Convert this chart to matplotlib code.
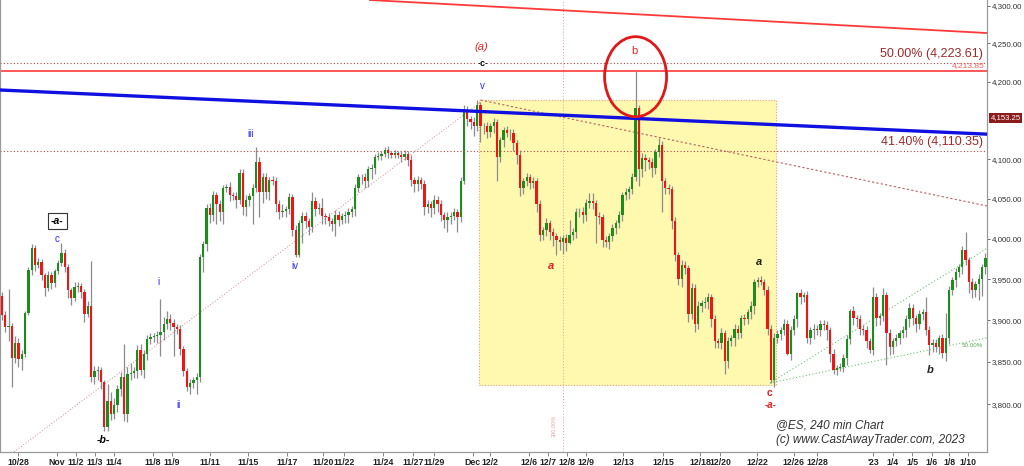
import matplotlib.pyplot as plt
from matplotlib.patches import Rectangle, Ellipse
from matplotlib.ticker import FixedLocator, NullLocator, NullFormatter, FuncFormatter

plt.rcParams["font.family"] = ["Liberation Sans", "DejaVu Sans"]

# ---- @ES 240 min bars (closes; open = previous close) ----
first_open = 3930
closes = [
    3906, 3892, 3893, 3855, 3873, 3854, 3860, 3909, 3961, 3989,
    3968, 3971, 3955, 3940, 3955, 3946, 3960, 3970, 3982, 3965,
    3937, 3927, 3941, 3942, 3935, 3908, 3917, 3832, 3839, 3840,
    3826, 3773, 3804, 3789, 3799, 3818, 3832, 3789, 3836, 3837,
    3839, 3864, 3841, 3860, 3877, 3880, 3881, 3882, 3886, 3896,
    3902, 3897, 3892, 3890, 3866, 3839, 3820, 3825, 3828, 3832,
    3978, 3993, 4039, 4030, 4055, 4043, 4034, 4064, 4065, 4055,
    4054, 4049, 4083, 4040, 4049, 4053, 4064, 4097, 4059, 4077,
    4058, 4074, 4073, 4043, 4033, 4035, 4037, 4052, 4011, 3980,
    4020, 4028, 4022, 4015, 4047, 4037, 4039, 4028, 4027, 4022,
    4018, 4030, 4024, 4028, 4030, 4033, 4037, 4064, 4077, 4078,
    4073, 4087, 4089, 4103, 4104, 4107, 4112, 4108, 4106, 4108,
    4106, 4103, 4107, 4099, 4074, 4068, 4074, 4068, 4040, 4043,
    4039, 4049, 4043, 4030, 4024, 4027, 4029, 4033, 4027, 4072,
    4163, 4151, 4148, 4142, 4169, 4142, 4142, 4135, 4142, 4148,
    4103, 4124, 4137, 4134, 4133, 4121, 4106, 4064, 4072, 4077,
    4070, 4072, 4043, 4005, 4011, 4020, 4009, 4003, 3999, 3996,
    4001, 3995, 4005, 4009, 4033, 4034, 4030, 4045, 4047, 4045,
    4028, 4027, 3999, 3996, 4003, 4014, 4020, 4030, 4055, 4058,
    4062, 4077, 4166, 4087, 4102, 4099, 4097, 4089, 4109, 4118,
    4072, 4064, 4062, 4022, 3980, 3951, 3968, 3964, 3908, 3940,
    3896, 3918, 3921, 3922, 3928, 3902, 3875, 3873, 3885, 3851,
    3875, 3879, 3890, 3885, 3903, 3902, 3910, 3918, 3947, 3949,
    3947, 3937, 3890, 3828, 3879, 3884, 3888, 3896, 3860, 3888,
    3902, 3933, 3928, 3931, 3879, 3888, 3890, 3889, 3896, 3894,
    3888, 3860, 3841, 3843, 3844, 3855, 3878, 3912, 3903, 3902,
    3890, 3888, 3875, 3864, 3928, 3903, 3905, 3931, 3885, 3868,
    3875, 3879, 3885, 3888, 3902, 3915, 3903, 3896, 3908, 3910,
    3888, 3870, 3873, 3868, 3879, 3861, 3879, 3937, 3949, 3959,
    3965, 3986, 3974, 3947, 3937, 3944, 3951, 3965, 3976,
]
upper_wick = [
    4, 5, 45, 4, 8, 6, 4, 3, 4, 5,
    3, 5, 4, 3, 5, 4, 3, 4, 13, 5,
    4, 3, 6, 5, 4, 3, 6, 55, 6, 5,
    4, 3, 20, 10, 8, 5, 6, 40, 8, 12,
    5, 6, 8, 4, 6, 5, 4, 5, 40, 8,
    10, 6, 5, 4, 5, 3, 4, 5, 4, 5,
    3, 4, 5, 6, 5, 4, 5, 3, 4, 6,
    4, 5, 4, 5, 6, 4, 5, 19, 6, 5,
    6, 3, 5, 4, 6, 8, 4, 5, 4, 6,
    4, 5, 6, 4, 12, 5, 6, 12, 4, 5,
    4, 6, 5, 4, 5, 6, 4, 5, 4, 3,
    5, 4, 5, 4, 5, 3, 4, 5, 3, 4,
    3, 4, 5, 4, 6, 4, 5, 4, 6, 5,
    4, 6, 4, 5, 4, 6, 4, 5, 4, 5,
    6, 5, 4, 6, 7, 5, 4, 5, 4, 5,
    4, 5, 4, 5, 4, 5, 4, 6, 4, 5,
    4, 5, 4, 5, 4, 6, 4, 5, 4, 5,
    4, 5, 19, 4, 5, 4, 6, 5, 10, 10,
    4, 5, 4, 5, 4, 5, 4, 5, 4, 5,
    4, 5, 48, 4, 6, 5, 4, 5, 4, 9,
    5, 4, 5, 4, 5, 4, 6, 5, 4, 5,
    4, 5, 4, 6, 5, 4, 5, 4, 6, 4,
    5, 4, 6, 5, 4, 5, 4, 5, 4, 4,
    5, 4, 5, 4, 6, 5, 4, 6, 4, 5,
    4, 2, 5, 4, 5, 4, 6, 4, 5, 4,
    5, 4, 6, 4, 5, 4, 5, 2, 5, 4,
    5, 4, 5, 4, 13, 5, 4, 9, 4, 5,
    4, 5, 4, 5, 4, 6, 5, 4, 5, 4,
    18, 5, 4, 5, 4, 5, 30, 5, 4, 5,
    4, 5, 23, 4, 5, 4, 5, 4, 6,
]
lower_wick = [
    6, 6, 17, 35, 6, 10, 13, 4, 3, 6,
    8, 4, 6, 10, 4, 8, 5, 4, 4, 6,
    10, 8, 4, 6, 8, 10, 4, 6, 8, 10,
    8, 4, 4, 8, 6, 8, 8, 9, 10, 8,
    6, 8, 6, 10, 8, 5, 6, 8, 25, 10,
    6, 8, 35, 6, 8, 6, 4, 8, 6, 16,
    6, 19, 8, 10, 8, 25, 12, 16, 6, 8,
    6, 10, 6, 10, 12, 8, 35, 6, 32, 14,
    8, 10, 6, 10, 8, 6, 8, 6, 8, 2,
    2, 25, 8, 10, 6, 8, 6, 10, 8, 6,
    8, 15, 8, 6, 8, 10, 6, 8, 6, 8,
    10, 8, 12, 8, 4, 5, 4, 6, 5, 4,
    5, 6, 4, 8, 8, 10, 8, 6, 10, 8,
    12, 8, 10, 8, 10, 16, 8, 6, 18, 6,
    4, 8, 10, 12, 6, 20, 10, 8, 6, 8,
    31, 6, 8, 6, 8, 10, 12, 10, 8, 6,
    8, 6, 10, 8, 6, 8, 10, 12, 19, 10,
    15, 10, 2, 6, 8, 6, 10, 8, 6, 8,
    33, 8, 9, 6, 8, 6, 8, 6, 8, 6,
    8, 6, 4, 21, 10, 14, 10, 12, 8, 6,
    39, 8, 6, 10, 8, 8, 10, 8, 10, 6,
    10, 6, 8, 6, 8, 10, 8, 6, 8, 15,
    8, 6, 10, 8, 6, 8, 6, 8, 10, 6,
    4, 6, 8, 3, 8, 6, 8, 6, 2, 8,
    6, 10, 8, 6, 6, 8, 10, 6, 8, 6,
    12, 10, 5, 6, 4, 6, 8, 6, 8, 10,
    8, 6, 8, 3, 6, 10, 8, 6, 39, 10,
    8, 6, 8, 6, 8, 10, 8, 10, 6, 8,
    6, 12, 8, 6, 8, 6, 10, 8, 6, 8,
    6, 8, 6, 14, 10, 8, 19, 21, 8,
]

# date labels and the bar each one sits under
tick_labels = ["10/28", "Nov", "11/2", "11/3", "11/4", "11/8", "11/9", "11/11",
               "11/15", "11/17", "11/20", "11/22", "11/24", "11/27", "11/29",
               "Dec", "12/2", "12/6", "12/7", "12/8", "12/9", "12/13", "12/15",
               "12/18", "12/20", "12/22", "12/26", "12/28", "'23", "1/4", "1/5",
               "1/6", "1/8", "1/10"]
tick_bars = [4.9, 16.7, 22.4, 28.2, 33.9, 45.8, 51.5, 63.0, 74.5, 86.4, 97.3,
             103.6, 115.5, 124.5, 130.9, 142.7, 147.9, 159.7, 165.5, 171.2,
             177.0, 188.2, 200.3, 211.5, 217.6, 228.8, 240.0, 247.0, 264.0,
             270.0, 275.8, 281.8, 287.0, 292.7]
# 4,150 is hidden behind the last-price box on the original
price_ticks = [3800, 3850, 3900, 3950, 4000, 4050, 4100, 4200, 4250, 4300]

# drawing tools on the chart
fib_levels = [4223.61, 4110.35]
fib_names = ["50.00%", "41.40%"]
spike_level = 4213.85
last_price = 4153.25
blue_bars, blue_prices = [-0.6, 298.5], [4189, 4132]
red_bars, red_prices = [111.5, 298.5], [4307.6, 4263.7]
rise_bars, rise_prices = [-0.6, 145.0], [3732, 4173]
fall_bars, fall_prices = [145.0, 298.5], [4176, 4041]
chan_bars = [232.7, 298.5]
chan_upper = [3825, 3988]
chan_lower = [3825, 3879]
box_bars = [144.5, 234.5]
box_prices = [3823, 4176]
marker_bar = 170
spike_bar = 192

opens = [first_open] + closes[:-1]
highs = [max(o, c) + u for o, c, u in zip(opens, closes, upper_wick)]
lows = [min(o, c) - d for o, c, d in zip(opens, closes, lower_wick)]
n = len(closes)

fig = plt.figure(figsize=(10.24, 4.66), dpi=100)
ax = fig.add_axes([0.0, 0.030, 0.9639, 0.970])
ax.set_yscale("log")
ax.set_xlim(-0.6, 298.5)
ax.set_ylim(3744, 4307.6)

# yellow box from the v high to the c low
ax.add_patch(Rectangle((box_bars[0], box_prices[0]), box_bars[1] - box_bars[0],
                       box_prices[1] - box_prices[0], facecolor="#fff9b0",
                       edgecolor="#eaa070", linestyle=(0, (1, 1.5)), lw=0.8, zorder=0))

dot = (0, (1, 2))
ax.axvline(marker_bar, color="#e79a9a", lw=0.7, ls=dot, zorder=1)
for lvl in fib_levels:
    ax.axhline(lvl, color="#b04545", lw=0.8, ls=dot, zorder=1)
ax.axhline(spike_level, color="#ff4a4a", lw=1.3, zorder=1)
ax.plot(red_bars, red_prices, color="#ff3a3a", lw=1.3, zorder=1)
ax.plot(rise_bars, rise_prices, color="#d98585", lw=0.7, ls=dot, zorder=1)
ax.plot(fall_bars, fall_prices, color="#b86060", lw=0.8, ls=(0, (2, 2)), zorder=1)
ax.plot(chan_bars, chan_upper, color="#6cc46c", lw=0.8, ls=dot, zorder=1)
ax.plot(chan_bars, chan_lower, color="#6cc46c", lw=0.8, ls=dot, zorder=1)

# candles
xs = list(range(n))
ax.vlines(xs, lows, highs, color="#8c8c8c", lw=0.9, zorder=2)
body_col = ["#1c8c1c" if c >= o else "#f01414" for o, c in zip(opens, closes)]
bottoms = [min(o, c) for o, c in zip(opens, closes)]
heights = [max(abs(c - o), 1.0) for o, c in zip(opens, closes)]
ax.bar(xs, heights, bottom=bottoms, width=0.68, color=body_col, lw=0, zorder=3)

ax.plot(blue_bars, blue_prices, color="#1010e0", lw=2.4, zorder=4)

# circle round the spike
cx, cy = ax.transAxes.inverted().transform(
    ax.transData.transform((spike_bar, highs[spike_bar])))
ax.add_patch(Ellipse((cx, cy - 0.013), 62 / 987, 80 / 452, transform=ax.transAxes,
                     fill=False, edgecolor="#e01818", lw=2.0, zorder=6))

# fib / price labels
for lvl, name in zip(fib_levels, fib_names):
    ax.annotate(f"{name} ({lvl:,.2f})", xy=(0.996, lvl),
                xycoords=("axes fraction", "data"), xytext=(0, 2.5),
                textcoords="offset points", ha="right", va="bottom",
                fontsize=9, color="#9c2a2a")
ax.annotate(f"{spike_level:,.2f}", xy=(0.998, spike_level),
            xycoords=("axes fraction", "data"), xytext=(0, 1),
            textcoords="offset points", ha="right", va="bottom",
            fontsize=6, color="#ff5a5a")
ax.annotate(f"{last_price:,.2f}", xy=(1.0, last_price),
            xycoords=("axes fraction", "data"), xytext=(2.5, 0),
            textcoords="offset points", ha="left", va="center", fontsize=5.6,
            color="white", annotation_clip=False, zorder=10,
            bbox=dict(boxstyle="square,pad=0.2", fc="#8b1c1c", ec="none"))

# wave labels
blue = "#2a2aff"
red = "#e82020"
ax.text(16.7, 4022, "-a-", fontsize=7.5, fontweight="bold", style="italic",
        ha="center", va="center", zorder=7,
        bbox=dict(boxstyle="square,pad=0.3", fc="white", ec="#333333", lw=0.8))
ax.text(16.7, 4000, "c", fontsize=7, color=blue, ha="center", va="center")
ax.text(30.6, 3758, "-b-", fontsize=7.5, fontweight="bold", style="italic",
        ha="center", va="center")
for lbl, bx, py in [("i", 47.3, 3947), ("ii", 53.6, 3799), ("iii", 75.2, 4132),
                    ("iv", 88.8, 3966), ("v", 145.5, 4194)]:
    ax.text(bx, py, lbl, fontsize=7, color=blue, ha="center", va="center")
ax.text(145.2, 4245, "(a)", fontsize=8, color=red, style="italic",
        ha="center", va="center")
ax.text(145.8, 4223.6, "-c-", fontsize=6.5, fontweight="bold", ha="center",
        va="center", zorder=7,
        bbox=dict(boxstyle="square,pad=0.05", fc="white", ec="none"))
ax.text(191.5, 4240, "b", fontsize=8, color=red, ha="center", va="center", zorder=7)
ax.text(166.4, 3966, "a", fontsize=8, color=red, fontweight="bold",
        style="italic", ha="center", va="center")
ax.text(229.4, 3971, "a", fontsize=8, color="#222222", fontweight="bold",
        style="italic", ha="center", va="center")
ax.text(232.7, 3813, "c", fontsize=7.5, color=red, fontweight="bold",
        ha="center", va="center")
ax.text(233.0, 3799, "-a-", fontsize=7, color=red, fontweight="bold",
        style="italic", ha="center", va="center")
ax.text(281.2, 3841, "b", fontsize=8, color="#222222", fontweight="bold",
        style="italic", ha="center", va="center")
ax.text(294.2, 3870, "50.00%", fontsize=4.5, color="#5aaa5a", ha="center",
        va="center")
ax.text(marker_bar - 2.5, 3774, "300.00%", fontsize=4, color="#e0a8a8",
        rotation=90, ha="center", va="center")

ax.text(0.786, 0.060, "@ES, 240 min Chart", transform=ax.transAxes,
        fontsize=8.5, style="italic", color="#333333", va="center")
ax.text(0.786, 0.027, "(c) www.CastAwayTrader.com, 2023", transform=ax.transAxes,
        fontsize=8.5, style="italic", color="#333333", va="center")

# axes
ax.yaxis.tick_right()
ax.yaxis.set_major_locator(FixedLocator(price_ticks))
ax.yaxis.set_minor_locator(NullLocator())
ax.yaxis.set_minor_formatter(NullFormatter())
ax.yaxis.set_major_formatter(FuncFormatter(lambda v, p: f"{v:,.2f}"))
ax.tick_params(axis="y", length=2.5, width=0.7, color="#666666", pad=0.8,
               labelsize=5.7, labelcolor="#333333")
ax.set_xticks(tick_bars)
ax.set_xticklabels(tick_labels, fontsize=6.3, fontweight="bold", color="#222222")
ax.tick_params(axis="x", length=3, width=0.7, color="#888888", pad=1)
for side in ["left", "right", "bottom"]:
    ax.spines[side].set_color("#9a9a9a")
    ax.spines[side].set_linewidth(0.9)
ax.spines["top"].set_visible(False)

fig.savefig("out.png", dpi=100)
